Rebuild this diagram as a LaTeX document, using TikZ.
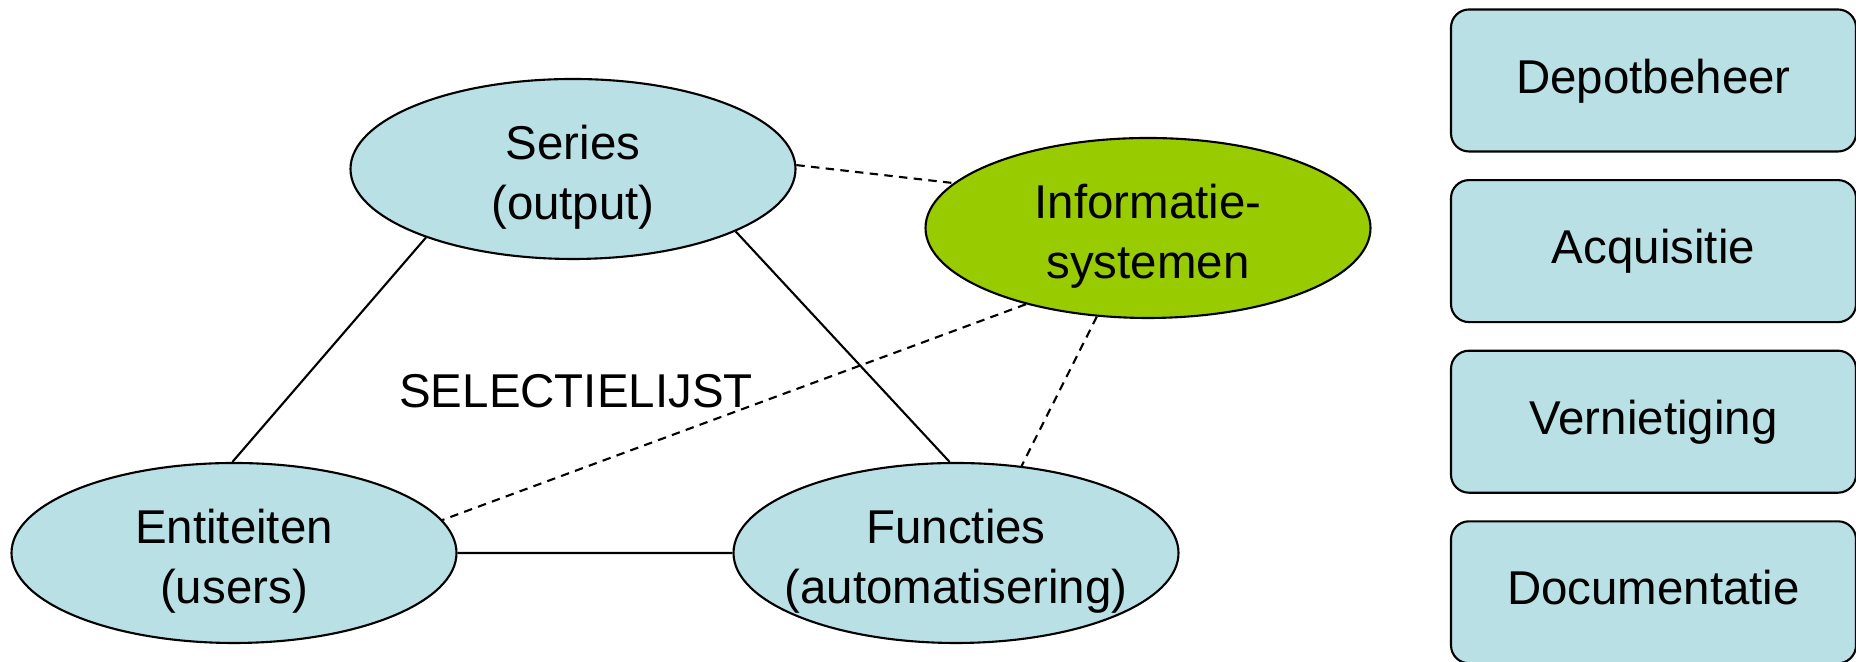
\documentclass[tikz,border=0pt]{standalone}
\usepackage{fontspec}
\setmainfont{Liberation Sans}
\usepackage{tikz}
\usetikzlibrary{shapes.geometric, positioning}
\definecolor{lichtblauw}{RGB}{185,224,228}
\definecolor{groen}{RGB}{153,204,0}
\tikzset{
font=\fontsize{13.5}{17}\selectfont, % sets the text size
every label/.style={align=center, yshift=-0.08cm, font=\fontsize{13.5}{17}\selectfont}, % text inside the ellipses
bol/.style={ellipse, draw, line width=0.6pt, fill=lichtblauw, minimum width=4.45cm, minimum height=1.8cm, inner sep=0pt}, % the ellipses
blok/.style={draw, line width=0.6pt, fill=lichtblauw, rounded corners=0.18cm, minimum width=4.05cm, minimum height=1.42cm, text height=0.72em, text depth=0pt}, % the boxes on the right
stip/.style={dash pattern=on 2.4pt off 1.8pt}, % dashed connectors
node distance=0.265cm, % gap between the boxes
}
\begin{document}
\begin{tikzpicture}

            \useasboundingbox (0,0) rectangle (18.56,6.62);

            \node[bol, label={center:{Series\\(output)}}] (s) at (5.73,4.93) {};
            \node[bol, fill=groen, label={center:{Informatie-\\systemen}}] (i) at (11.48,4.34) {};
            \node[bol, label={center:{Entiteiten\\(users)}}] (e) at (2.34,1.09) {};
            \node[bol, label={center:{Functies\\(automatisering)}}] (f) at (9.56,1.09) {};

            \node (sl) at (5.76,2.71) {SELECTIELIJST};

            \node[blok] (d) at (16.535,5.815) {Depotbeheer};
            \node[blok, below=of d] (a) {Acquisitie};
            \node[blok, below=of a] (v) {Vernietiging};
            \node[blok, below=of v] (doc) {Documentatie};

            \draw[line width=0.6pt]
                    (s.205) -- (e.91)
                    (s.339) -- (f.94)
                    (e.east) -- (f.west)
                    ;
            \draw[line width=0.6pt, stip]
                    (s.1) -- (i.167)
                    (i.212) -- (e.9)
                    (i.240) -- (f.53)
                    ;
        \end{tikzpicture}
\end{document}
